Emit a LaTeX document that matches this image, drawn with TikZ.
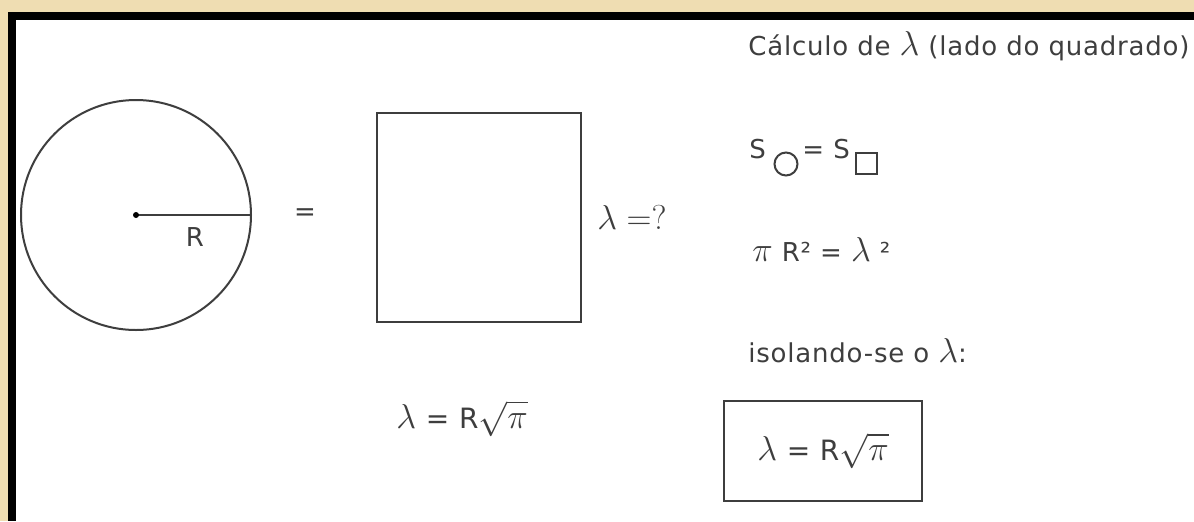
\documentclass[tikz,border=0pt]{standalone}
\usepackage{fontspec}
\setmainfont{DejaVu Sans}[LetterSpace=3]
\definecolor{parch}{RGB}{239,221,178}
\definecolor{ink}{RGB}{62,62,62}
\newcommand{\lam}{{\fontsize{17}{17}\selectfont$\lambda$}}
\newcommand{\ppi}{{\fontsize{17}{17}\selectfont$\pi$}}
\newcommand{\rpi}{{\fontsize{17}{17}\selectfont$\sqrt{\pi}$}}
\begin{document}
\begin{tikzpicture}[x=0.5pt,y=-0.5pt,
  txt/.style={text=ink,inner sep=0pt,font=\fontsize{13}{15}\selectfont},
  fml/.style={text=ink,inner sep=0pt,font=\fontsize{14}{16}\selectfont},
  fig/.style={draw=ink,line width=1pt}]
\fill[parch] (0,0) rectangle (1194,521);
\fill[black] (8,12) rectangle (1194,521);
\fill[white] (16,20) rectangle (1194,521);
\useasboundingbox (0,0) rectangle (1194,521);
\coordinate (o) at (136,215);\coordinate (e) at (251,215);
\draw[fig] (o) circle[radius=115];
\draw[fig] (o)--(e);
\fill[black] (o) circle[radius=3];
\node[txt] (r) at (195,237) {R};
\node[txt] (eq) at (305,215) {=};
\node[fig,minimum width=102pt,minimum height=104.5pt] (sq) at (479,217.5) {};
\node[fml,anchor=base west,font=\fontsize{17}{17}\selectfont] (lq) at (597,229) {$\lambda=?$};
\node[fml,anchor=base west] (res1) at (396,428) {\lam{} = R\rpi};
\node[txt,anchor=base west] (tit) at (748,55) {Cálculo de \lam{} (lado do quadrado)};
\node[txt,anchor=base west] (s1) at (749,158) {S};
\node[fig,circle,inner sep=0pt,minimum size=11.5pt] (sc) at (786,164) {};
\node[txt,anchor=base west] (eq1) at (802,158) {=};
\node[txt,anchor=base west] (s2) at (833,158) {S};
\node[fig,inner sep=0pt,minimum size=10.5pt] (ss) at (866.5,163.5) {};
\node[txt,anchor=base west] (area) at (752,261) {\ppi{} R² = \lam{} ²};
\node[txt,anchor=base west] (iso) at (748,362) {isolando-se o \lam:};
\node[fig,fml,minimum width=99pt,minimum height=50pt] (res2) at (823,451) {\lam{} = R\rpi};
\end{tikzpicture}
\end{document}
